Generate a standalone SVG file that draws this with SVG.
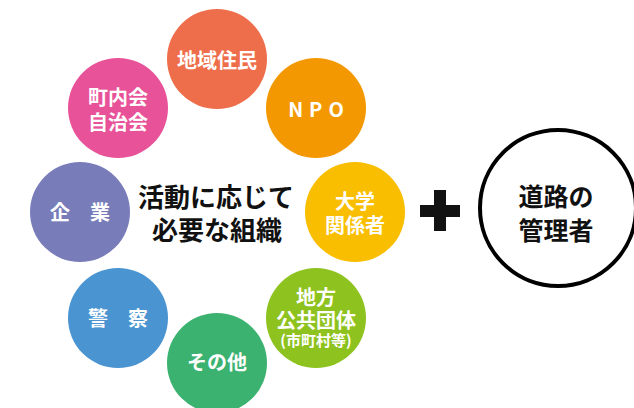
<svg xmlns="http://www.w3.org/2000/svg" width="634" height="408" viewBox="0 0 634 408">
<style>
text{font-family:"Noto Sans CJK JP","Noto Sans",sans-serif;font-weight:bold;text-anchor:middle;dominant-baseline:central}
.w{fill:#fff;font-size:20px}
.s{fill:#fff;font-size:15px}
.b{fill:#111;font-size:26px}
.m{fill:#111;font-size:25px}
</style>
<rect width="634" height="408" fill="#fff"/>
<g id="chiiki"><circle cx="217" cy="59" r="50" fill="#EE6E4B"/><text class="w" x="217" y="59">地域住民</text></g>
<g id="npo"><circle cx="316" cy="108" r="50" fill="#F39800"/><text class="w" x="319" y="108" letter-spacing="6">NPO</text></g>
<g id="daigaku"><circle cx="355" cy="212" r="50" fill="#F9BE00"/><text class="w" x="355" y="200">大学</text><text class="w" x="355" y="224">関係者</text></g>
<g id="chiho"><circle cx="316" cy="318" r="50" fill="#8EC21F"/><text class="w" x="316" y="296">地方</text><text class="w" x="316" y="319">公共団体</text><text class="s" x="316" y="339">(市町村等)</text></g>
<g id="sonota"><circle cx="217" cy="363" r="50" fill="#3BB26F"/><text class="w" x="217" y="361">その他</text></g>
<g id="keisatsu"><circle cx="118" cy="318" r="50" fill="#4A94D1"/><text class="w" x="118" y="317">警　察</text></g>
<g id="kigyo"><circle cx="80" cy="212" r="50" fill="#787DBA"/><text class="w" x="80" y="211">企　業</text></g>
<g id="chonaikai"><circle cx="118" cy="108" r="50" fill="#E85298"/><text class="w" x="118" y="96">町内会</text><text class="w" x="118" y="121">自治会</text></g>
<g id="center"><text class="b" x="216" y="195">活動に応じて</text><text class="b" x="217" y="228">必要な組織</text></g>
<g id="plus"><rect x="434" y="190" width="12" height="41" fill="#111"/><rect x="420" y="205" width="40" height="12" fill="#111"/></g>
<g id="doro"><circle cx="558" cy="208" r="78" fill="#fff" stroke="#000" stroke-width="4"/><text class="m" x="556" y="195">道路の</text><text class="m" x="556" y="229">管理者</text></g>
<g id="connectors"></g>
</svg>
